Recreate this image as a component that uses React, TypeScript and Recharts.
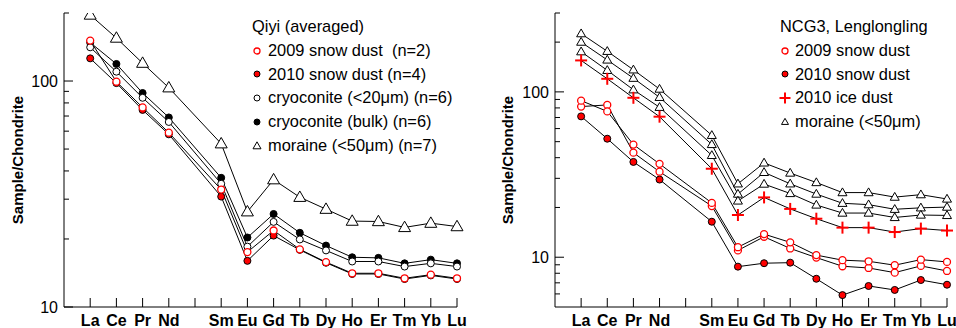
import React from 'react';
import { LineChart, Line, XAxis, YAxis, Label } from 'recharts';

// REE order, Pm has a tick but no value or label
const tickLabels = ['La', 'Ce', 'Pr', 'Nd', '', 'Sm', 'Eu', 'Gd', 'Tb', 'Dy', 'Ho', 'Er', 'Tm', 'Yb', 'Lu'];
const positions = [1, 2, 3, 4, 6, 7, 8, 9, 10, 11, 12, 13, 14, 15];

// Qiyi (averaged)
const qSnow2009 = [151, 99.3, 76.4, 59.1, 33.1, 17.5, 21.8, 18.0, 15.8, 14.1, 14.1, 13.4, 13.9, 13.4];
const qSnow2010 = [126, 97.9, 74.5, 58.1, 30.8, 16.0, 20.7, 17.9, 15.7, 14.0, 14.0, 13.3, 13.8, 13.3];
const qCryoFine = [141, 110, 84.3, 65.9, 35.1, 18.5, 23.8, 19.9, 17.8, 15.9, 15.9, 15.1, 15.6, 15.1];
const qCryoBulk = [148, 119, 88.5, 69.0, 37.3, 20.3, 25.8, 21.3, 18.7, 16.6, 16.5, 15.6, 16.2, 15.6];
const qMoraine = [196, 155, 120, 93.4, 52.8, 26.4, 36.6, 30.6, 27.1, 24.0, 23.9, 22.5, 23.5, 22.7];

// NCG3, Lenglongling
const nMoraineA = [225, 176, 136, 104, 54.6, 27.8, 37.2, 32.3, 28.3, 24.6, 24.6, 23.1, 23.9, 22.5];
const nMoraineB = [200, 156, 121, 92.7, 48.1, 24.1, 32.6, 27.8, 24.1, 21.2, 20.8, 19.5, 19.9, 20.1];
const nMoraineC = [175, 135, 103, 80.7, 41.3, 21.9, 27.7, 24.3, 20.7, 18.5, 18.5, 17.4, 18.0, 17.9];
const nIce2010 = [155, 120, 92.1, 70.8, 34.3, 18.0, 23.0, 19.6, 17.1, 15.1, 15.1, 14.2, 14.9, 14.5];
const nSnow2009A = [88.5, 76.2, 48.0, 36.7, 21.3, 11.5, 13.8, 12.3, 10.3, 9.6, 9.45, 8.95, 9.67, 9.37];
const nSnow2009B = [81.5, 83.4, 42.9, 32.9, 20.4, 11.0, 13.3, 11.3, 9.95, 8.82, 8.61, 8.07, 8.86, 8.26];
const nSnow2010 = [71.1, 52.1, 37.7, 29.5, 16.4, 8.77, 9.2, 9.27, 7.41, 5.9, 6.7, 6.34, 7.28, 6.82];

const leftTicks = [10, 20, 30, 40, 50, 60, 70, 80, 90, 100, 200];
const rightTicks = [6, 7, 8, 9, 10, 20, 30, 40, 50, 60, 70, 80, 90, 100, 200, 300];
const majorTicks = [10, 100];
const xTicks = [1, 2, 3, 4, 5, 6, 7, 8, 9, 10, 11, 12, 13, 14, 15];

const RED = '#ff0000';
const FONT = '"Liberation Sans", Arial, sans-serif';

const buildRows = (series: Record<string, number[]>) =>
  positions.map((x, i) => {
    const row: any = { x };
    Object.keys(series).forEach(k => { row[k] = series[k][i]; });
    return row;
  });

const leftData = buildRows({ qSnow2009, qSnow2010, qCryoFine, qCryoBulk, qMoraine });
const rightData = buildRows({ nMoraineA, nMoraineB, nMoraineC, nIce2010, nSnow2009A, nSnow2009B, nSnow2010 });

type Kind = 'openRed' | 'fillRed' | 'openBlack' | 'fillBlack' | 'tri' | 'plus';

const Marker = ({ kind, cx, cy, size }: { kind: Kind; cx: number; cy: number; size: number }) => {
  if (kind === 'tri') {
    const w = size, h = size * 0.87;
    const pts = `${cx},${cy - h * 0.6} ${cx - w / 2},${cy + h * 0.4} ${cx + w / 2},${cy + h * 0.4}`;
    return <polygon points={pts} fill="#fff" stroke="#000" strokeWidth={1} />;
  }
  if (kind === 'plus') {
    const s = size / 2;
    return (
      <g stroke={RED} strokeWidth={2}>
        <line x1={cx - s} x2={cx + s} y1={cy} y2={cy} />
        <line x1={cx} x2={cx} y1={cy - s} y2={cy + s} />
      </g>
    );
  }
  const r = size / 2;
  if (kind === 'openRed') return <circle cx={cx} cy={cy} r={r} fill="#fff" stroke={RED} strokeWidth={1.3} />;
  if (kind === 'fillRed') return <circle cx={cx} cy={cy} r={r} fill={RED} stroke="#000" strokeWidth={1} />;
  if (kind === 'openBlack') return <circle cx={cx} cy={cy} r={r} fill="#fff" stroke="#000" strokeWidth={1} />;
  return <circle cx={cx} cy={cy} r={r} fill="#000" stroke="#000" strokeWidth={1} />;
};

const dotOf = (kind: Kind, size: number) => (p: any) => (
  <g key={`d-${p.index}`}>
    <Marker kind={kind} cx={p.cx} cy={p.cy} size={size} />
  </g>
);

const YTick = (props: any) => {
  const { x, y, payload } = props;
  const major = majorTicks.includes(payload.value);
  return (
    <g>
      <line x1={x} x2={x + (major ? 9 : 5)} y1={y} y2={y} stroke="#000" />
      {major && (
        <text x={x - 6} y={y + 6} textAnchor="end" fontSize={16} fill="#000" fontFamily={FONT}>
          {payload.value}
        </text>
      )}
    </g>
  );
};

const XTick = (props: any) => {
  const { x, y, payload } = props;
  return (
    <g>
      <line x1={x} x2={x} y1={y} y2={y - 9} stroke="#000" />
      <text x={x} y={y + 19} textAnchor="middle" fontSize={16} fontWeight="bold" fill="#000" fontFamily={FONT}>
        {tickLabels[payload.value - 1]}
      </text>
    </g>
  );
};

const yLabel = (cx: number) => (props: any) => {
  const vb = props.viewBox;
  const cy = vb.y + vb.height / 2;
  return (
    <text
      x={cx} y={cy} transform={`rotate(-90 ${cx} ${cy})`} textAnchor="middle" dominantBaseline="central"
      fontSize={15} fontWeight="bold" fill="#000" fontFamily={FONT}
    >
      Sample/Chondrite
    </text>
  );
};

const LegendBox = ({ title, items, gap, left }: { title: string; items: { kind: Kind; size: number; label: string }[]; gap: number; left: number }) => (
  <div style={{ position: 'absolute', left, top: 15, fontFamily: FONT, fontSize: 16.4, color: '#000', lineHeight: '23.75px', whiteSpace: 'pre' }}>
    <div>{title}</div>
    {items.map(it => (
      <div key={it.label} style={{ display: 'flex', alignItems: 'center', height: 23.75 }}>
        <svg width={10} height={12} style={{ marginRight: gap, overflow: 'visible' }}>
          <Marker kind={it.kind} cx={5} cy={6} size={it.size} />
        </svg>
        <span>{it.label}</span>
      </div>
    ))}
  </div>
);

const leftLegend = [
  { kind: 'openRed' as Kind, size: 6, label: '2009 snow dust  (n=2)' },
  { kind: 'fillRed' as Kind, size: 6, label: '2010 snow dust (n=4)' },
  { kind: 'openBlack' as Kind, size: 6, label: 'cryoconite (<20\u03bcm) (n=6)' },
  { kind: 'fillBlack' as Kind, size: 6, label: 'cryoconite (bulk) (n=6)' },
  { kind: 'tri' as Kind, size: 8, label: 'moraine (<50\u03bcm) (n=7)' },
];

const rightLegend = [
  { kind: 'openRed' as Kind, size: 6, label: '2009 snow dust' },
  { kind: 'fillRed' as Kind, size: 6, label: '2010 snow dust' },
  { kind: 'plus' as Kind, size: 11, label: '2010 ice dust' },
  { kind: 'tri' as Kind, size: 7, label: 'moraine (<50\u03bcm)' },
];

export default function App() {
  return (
    <div style={{ position: 'absolute', left: 0, top: 0, width: 956, height: 328, background: '#fff', fontFamily: FONT, overflow: 'hidden' }}>
      <div style={{ position: 'absolute', left: 0, top: 0, width: 480, height: 328 }}>
        <LineChart width={480} height={328} data={leftData} margin={{ top: 13, right: 23, bottom: 1, left: 14 }}>
          <XAxis dataKey="x" type="number" domain={[0, 15]} ticks={xTicks} interval={0} height={20}
            tickSize={0} tickMargin={0} tickLine={false} axisLine={{ stroke: '#000' }} tick={<XTick />} />
          <YAxis type="number" scale="log" domain={[10, 200]} allowDataOverflow ticks={leftTicks} interval={0} width={50}
            tickSize={0} tickMargin={0} tickLine={false} axisLine={{ stroke: '#000' }} tick={<YTick />}>
            <Label content={yLabel(17.5)} />
          </YAxis>
          <Line dataKey="qMoraine" stroke="#000" strokeWidth={1} dot={dotOf('tri', 12)} isAnimationActive={false} />
          <Line dataKey="qCryoBulk" stroke="#000" strokeWidth={1} dot={dotOf('fillBlack', 7)} isAnimationActive={false} />
          <Line dataKey="qCryoFine" stroke="#000" strokeWidth={1} dot={dotOf('openBlack', 7)} isAnimationActive={false} />
          <Line dataKey="qSnow2010" stroke="#000" strokeWidth={1} dot={dotOf('fillRed', 7)} isAnimationActive={false} />
          <Line dataKey="qSnow2009" stroke="#000" strokeWidth={1} dot={dotOf('openRed', 7)} isAnimationActive={false} />
        </LineChart>
        <LegendBox title="Qiyi (averaged)" items={leftLegend} gap={6} left={252} />
      </div>
      <div style={{ position: 'absolute', left: 480, top: 0, width: 476, height: 328 }}>
        <LineChart width={476} height={328} data={rightData} margin={{ top: 13, right: 9, bottom: 1, left: 25 }}>
          <XAxis dataKey="x" type="number" domain={[0, 15]} ticks={xTicks} interval={0} height={20}
            tickSize={0} tickMargin={0} tickLine={false} axisLine={{ stroke: '#000' }} tick={<XTick />} />
          <YAxis type="number" scale="log" domain={[5, 300]} allowDataOverflow ticks={rightTicks} interval={0} width={50}
            tickSize={0} tickMargin={0} tickLine={false} axisLine={{ stroke: '#000' }} tick={<YTick />}>
            <Label content={yLabel(27.5)} />
          </YAxis>
          <Line dataKey="nMoraineA" stroke="#000" strokeWidth={1} dot={dotOf('tri', 9)} isAnimationActive={false} />
          <Line dataKey="nMoraineB" stroke="#000" strokeWidth={1} dot={dotOf('tri', 9)} isAnimationActive={false} />
          <Line dataKey="nMoraineC" stroke="#000" strokeWidth={1} dot={dotOf('tri', 9)} isAnimationActive={false} />
          <Line dataKey="nIce2010" stroke="#000" strokeWidth={1} dot={dotOf('plus', 12)} isAnimationActive={false} />
          <Line dataKey="nSnow2010" stroke="#000" strokeWidth={1} dot={dotOf('fillRed', 7)} isAnimationActive={false} />
          <Line dataKey="nSnow2009B" stroke="#000" strokeWidth={1} dot={dotOf('openRed', 7)} isAnimationActive={false} />
          <Line dataKey="nSnow2009A" stroke="#000" strokeWidth={1} dot={dotOf('openRed', 7)} isAnimationActive={false} />
        </LineChart>
        <LegendBox title="NCG3, Lenglongling" items={rightLegend} gap={5} left={300} />
      </div>
    </div>
  );
}
